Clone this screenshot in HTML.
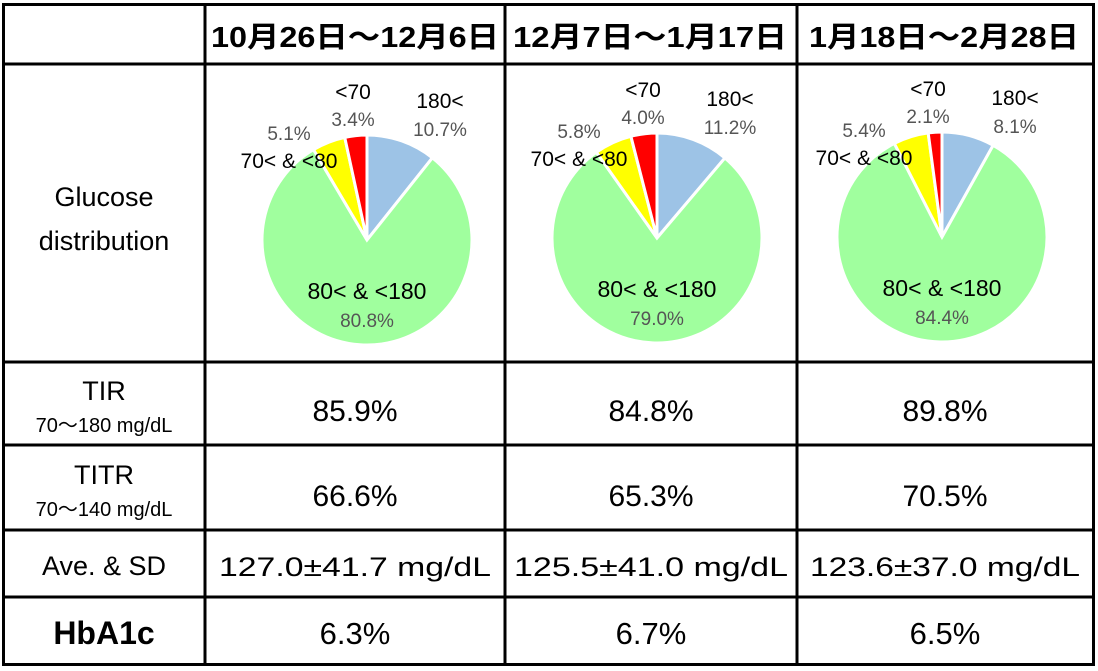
<!DOCTYPE html>
<html><head><meta charset="utf-8"><style>
body{margin:0;width:1098px;height:671px;background:#fff;overflow:hidden;font-family:"Liberation Sans","Noto Sans CJK JP",sans-serif;}
svg{position:absolute;left:0;top:0}
</style></head><body>
<svg width="1098" height="671" font-family="'Liberation Sans','Noto Sans CJK JP',sans-serif">
<g id="grid" stroke="#000" stroke-width="3" fill="none">
<rect x="3.5" y="4.5" width="1090" height="660"/>
<line x1="205" y1="4" x2="205" y2="665"/><line x1="505" y1="4" x2="505" y2="665"/><line x1="797" y1="4" x2="797" y2="665"/>
<line x1="3" y1="64" x2="1094" y2="64"/><line x1="3" y1="362" x2="1094" y2="362"/><line x1="3" y1="445" x2="1094" y2="445"/><line x1="3" y1="530" x2="1094" y2="530"/><line x1="3" y1="597" x2="1094" y2="597"/>
</g>
<g font-size="29" font-weight="bold" text-anchor="middle" lengthAdjust="spacingAndGlyphs">
<text x="355" y="47" textLength="288" lengthAdjust="spacingAndGlyphs">10月26日～12月6日</text>
<text x="650" y="47" textLength="274" lengthAdjust="spacingAndGlyphs">12月7日～1月17日</text>
<text x="944" y="47" textLength="270" lengthAdjust="spacingAndGlyphs">1月18日～2月28日</text>
</g>
<g font-size="27" text-anchor="middle">
<text x="104" y="206">Glucose</text>
<text x="104" y="250">distribution</text>
<text x="104" y="400">TIR</text>
<text x="104" y="432" font-size="20">70～180 mg/dL</text>
<text x="104" y="484">TITR</text>
<text x="104" y="516" font-size="20">70～140 mg/dL</text>
<text x="104" y="575">Ave. &amp; SD</text>
<text x="104" y="644" font-size="32" font-weight="bold">HbA1c</text>
</g>
<g id="vals" font-size="30" text-anchor="middle"></g>
<g id="pies"></g>
</svg>
<script>
const periods=["p1","p2","p3"];
const above180=[10.7,11.2,8.1];
const inRange=[80.8,79.0,84.4];
const low7080=[5.1,5.8,5.4];
const below70=[3.4,4.0,2.1];
const tir=["85.9%","84.8%","89.8%"];
const titr=["66.6%","65.3%","70.5%"];
const ave=["127.0±41.7 mg/dL","125.5±41.0 mg/dL","123.6±37.0 mg/dL"];
const hba1c=["6.3%","6.7%","6.5%"];
const colX=[355,651,945];
const aveLen=[272,274,270];
const ns="http://www.w3.org/2000/svg";
const vals=document.getElementById('vals'),pies=document.getElementById('pies');
function txt(p,x,y,s,o){const t=document.createElementNS(ns,'text');t.setAttribute('x',x);t.setAttribute('y',y);t.textContent=s;for(const k in o)t.setAttribute(k,o[k]);p.appendChild(t);return t;}
const centers=[[367,240],[657,238],[942,237]];
const colors=["#9dc3e6","#a0ff9e","#ffff00","#ff0000"];
const names=["above-180","in-range","70-80","below-70"];
for(let i=0;i<3;i++){
 let t;
 t=txt(vals,colX[i],421,tir[i],{});
 t=txt(vals,colX[i],506,titr[i],{});
 t=txt(vals,colX[i],576,ave[i],{'font-size':'27',textLength:aveLen[i],lengthAdjust:'spacingAndGlyphs'});
 t=txt(vals,colX[i],644,hba1c[i],{'font-size':'31'});
 const [cx,cy]=centers[i],r=105;
 const v=[above180[i],inRange[i],low7080[i],below70[i]];
 const tot=v.reduce((a,b)=>a+b,0);let a0=0;
 v.forEach((val,k)=>{const a1=a0+val/tot*2*Math.PI;
  const x0=cx+r*Math.sin(a0),y0=cy-r*Math.cos(a0),x1=cx+r*Math.sin(a1),y1=cy-r*Math.cos(a1);
  const p=document.createElementNS(ns,'path');
  p.setAttribute('d',`M${cx},${cy}L${x0},${y0}A${r},${r} 0 ${a1-a0>Math.PI?1:0} 1 ${x1},${y1}Z`);
  p.setAttribute('fill',colors[k]);p.setAttribute('stroke','#fff');p.setAttribute('stroke-width','3');
  
  
  pies.appendChild(p);a0=a1;});
 const g={'font-size':'21','text-anchor':'middle'};const gp={'font-size':'19','text-anchor':'middle',fill:'#555'};
 t=txt(pies,cx-14,cy-141,'<70',g);
 t=txt(pies,cx-14,cy-114,below70[i].toFixed(1)+'%',gp);
 t=txt(pies,cx+73,cy-132,'180<',g);
 t=txt(pies,cx+73,cy-104,above180[i].toFixed(1)+'%',gp);
 t=txt(pies,cx-78,cy-100,low7080[i].toFixed(1)+'%',gp);
 t=txt(pies,cx-78,cy-72,'70< & <80',g);
 t=txt(pies,cx,cy+59,'80< & <180',{'font-size':'23','text-anchor':'middle'});
 t=txt(pies,cx,cy+87,inRange[i].toFixed(1)+'%',gp);
}
</script>
</body></html>
